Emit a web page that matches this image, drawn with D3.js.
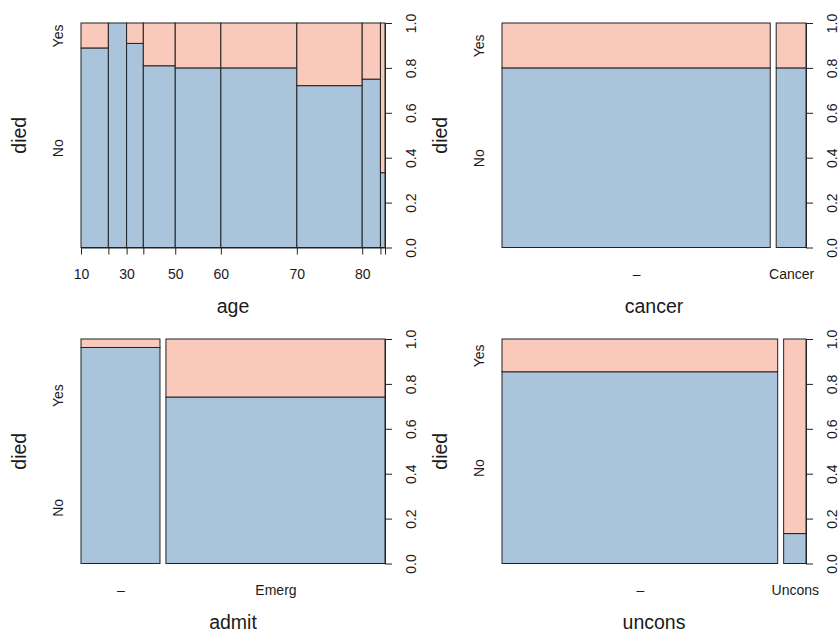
<!DOCTYPE html>
<html><head><meta charset="utf-8">
<script src="https://cdn.jsdelivr.net/npm/d3@7"></script>
<style>
body{margin:0;background:#fff}
svg{display:block;background:#fff}
text{font-family:"Liberation Sans",Arial,Helvetica,sans-serif;fill:#1a1a1a}
</style>
</head><body>
<svg id="c" width="840" height="632"></svg>
<script>
// ---- data ----
const diedLevels = ["No", "Yes"];
const ageBreaks = [10, 20, 30, 40, 50, 60, 70, 80, 90, 100];
const ageTickLabels = ["10", "", "30", "", "50", "60", "70", "80", "", ""];
const ageNo  = [16, 12, 10, 17, 24, 40, 31, 9, 1];
const ageYes = [2, 0, 1, 4, 6, 10, 12, 3, 2];
const cancerLevels = ["\u2013", "Cancer"];
const cancerNo  = [144, 16];
const cancerYes = [36, 4];
const admitLevels = ["\u2013", "Emerg"];
const admitNo  = [51, 109];
const admitYes = [2, 38];
const unconsLevels = ["\u2013", "Uncons"];
const unconsNo  = [158, 2];
const unconsYes = [27, 13];
const propTicks = [0, 0.2, 0.4, 0.6, 0.8, 1.0];

// ---- styling ----
const colNo = "#AAC5DB", colYes = "#F9C9BC", ink = "#222";
const W = 420, H = 316;
const m = {l: 81, r: 35, t: 23, b: 68.5};
const axisFont = "14px", titleFont = "19.5px";

const panels = [
  {xlab: "age", numeric: true, no: ageNo, yes: ageYes, tickLabels: ageTickLabels, col: 0, row: 0},
  {xlab: "cancer", levels: cancerLevels, no: cancerNo, yes: cancerYes, col: 1, row: 0},
  {xlab: "admit", levels: admitLevels, no: admitNo, yes: admitYes, col: 0, row: 1},
  {xlab: "uncons", levels: unconsLevels, no: unconsNo, yes: unconsYes, col: 1, row: 1}
];

const svg = d3.select("#c");

panels.forEach(p => {
  const ox = p.col * W + (p.col ? 1 : 0), oy = p.row * H;
  const g = svg.append("g").attr("transform", `translate(${ox},${oy})`);
  const L = m.l, R = W - m.r, T = m.t, B = H - m.b;
  const tot = p.no.map((v, i) => v + p.yes[i]);
  const N = d3.sum(tot);
  const n = tot.length;
  const off = p.numeric ? 0 : 0.02;
  const x = d3.scaleLinear().domain([0, 1 + off * (n - 1)]).range([L, R]);
  const y = d3.scaleLinear().domain([0, 1]).range([B, T]);
  const xat = [0];
  tot.forEach((t, i) => xat.push(xat[i] + t / N + off));

  const cells = [];
  tot.forEach((t, i) => {
    const pn = p.no[i] / t;
    cells.push({x0: xat[i], x1: xat[i + 1] - off, y0: 0, y1: pn, c: colNo});
    cells.push({x0: xat[i], x1: xat[i + 1] - off, y0: pn, y1: 1, c: colYes});
  });
  g.append("g").selectAll("rect").data(cells.filter(d => d.y1 > d.y0)).join("rect")
    .attr("x", d => x(d.x0))
    .attr("y", d => y(d.y1))
    .attr("width", d => x(d.x1) - x(d.x0))
    .attr("height", d => y(d.y0) - y(d.y1))
    .attr("fill", d => d.c)
    .attr("stroke", ink)
    .attr("stroke-width", 1);

  // bottom axis
  let ab;
  if (p.numeric) {
    ab = d3.axisBottom(x).tickValues(xat)
      .tickFormat((d, i) => p.tickLabels[i]).tickSize(7).tickSizeOuter(0);
  } else {
    const mids = d3.range(n).map(i => (xat[i] + xat[i + 1] - off) / 2);
    ab = d3.axisBottom(x).tickValues(mids)
      .tickFormat((d, i) => p.levels[i]).tickSize(0).tickSizeOuter(0);
  }
  const gb = g.append("g").attr("transform", `translate(0,${B})`).call(ab);
  gb.attr("font-size", null).attr("font-family", null).attr("color", ink);
  if (!p.numeric) gb.select(".domain").remove();
  gb.selectAll("text").attr("y", 31).attr("dy", null).style("font-size", axisFont);

  // right axis (proportions)
  const ar = d3.axisRight(y).tickValues(propTicks).tickFormat(d3.format(".1f"))
    .tickSize(7).tickSizeOuter(0);
  const gr = g.append("g").attr("transform", `translate(${R},0)`).call(ar);
  gr.attr("font-size", null).attr("font-family", null).attr("color", ink);
  gr.selectAll("text").attr("x", null).attr("dy", null)
    .attr("text-anchor", "middle").attr("transform", "translate(31,0) rotate(-90)")
    .style("font-size", axisFont);

  // left axis (levels of died), positions from the first column
  const yat0 = [0, p.no[0] / tot[0], 1];
  const pr = d3.pairs(yat0);
  const yat = pr.some(([a, b]) => b - a < 0.1) ? [0.25, 0.75] : pr.map(([a, b]) => (a + b) / 2);
  const al = d3.axisLeft(y).tickValues(yat).tickFormat((d, i) => diedLevels[i]).tickSize(0);
  const gl = g.append("g").attr("transform", `translate(${L},0)`).call(al);
  gl.attr("font-size", null).attr("font-family", null).attr("color", ink);
  gl.select(".domain").remove();
  gl.selectAll("text").attr("x", null).attr("dy", null)
    .attr("text-anchor", "middle").attr("transform", "translate(-18,0) rotate(-90)")
    .style("font-size", axisFont);

  // titles
  g.append("text").attr("x", (L + R) / 2).attr("y", B + 65.5)
    .attr("text-anchor", "middle").style("font-size", titleFont).text(p.xlab);
  g.append("text").attr("transform", `translate(${L - 55},${(T + B) / 2}) rotate(-90)`)
    .attr("text-anchor", "middle").style("font-size", titleFont).text("died");
});
</script>
</body></html>
